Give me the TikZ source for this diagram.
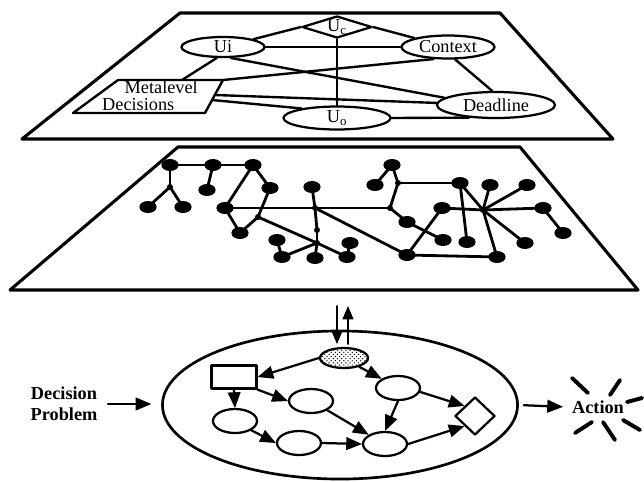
\documentclass[tikz,border=0pt]{standalone}
\usepackage{fontspec}
\setmainfont{Liberation Serif}
\usetikzlibrary{arrows}
\usetikzlibrary{shapes.geometric}
\usetikzlibrary{patterns}
\usetikzlibrary{calc}

\begin{document}
\begin{tikzpicture}[line cap=round,line join=round,>=triangle 45,x=0.025cm,y=-0.025cm,
  font=\fontsize{13}{15}\selectfont,
  plane/.style={line width=2.2pt},
  link/.style={line width=1.7pt},
  oval/.style={ellipse,draw,line width=1.6pt,inner sep=0.5pt},
  blob/.style={ellipse,fill,inner sep=0pt,minimum width=0.43cm,minimum height=0.3cm},
  knot/.style={circle,fill,inner sep=0pt,minimum size=0.15cm},
  flow/.style={->,line width=1.6pt},
  ray/.style={line width=2.8pt}]
\useasboundingbox (0,0) rectangle (644,481);
% upper plane: metalevel model
\draw[plane] (180,13) -- (500,13) -- (613,139) -- (22,139) -- cycle;
\node[diamond,draw,line width=1.6pt,aspect=3,inner sep=0pt,minimum width=1.75cm,minimum height=0.55cm] (uc) at (337,27) {U\textsubscript{c}};
\node[oval,minimum width=2.075cm,minimum height=0.5cm] (ui) at (223,47) {Ui};
\node[oval,minimum width=2.325cm,minimum height=0.575cm] (ctx) at (448,47) {Context};
\node[oval,minimum width=2.95cm,minimum height=0.65cm] (dl) at (496,105) {Deadline};
\node[oval,minimum width=2.675cm,minimum height=0.575cm] (uo) at (337,118) {U\textsubscript{o}};
\node[align=left,inner sep=0pt,font=\fontsize{13}{12}\selectfont] (meta) at (150,96) {\hspace*{16pt}Metalevel\\Decisions};
\draw[link] (118,80) coordinate (ml-nw) -- (223,80) coordinate (ml-ne) -- (205,113) coordinate (ml-se) -- (73,113) coordinate (ml-sw) -- cycle;
\coordinate (ml-n) at (182,80);
\coordinate (ml-e1) at (215,95);
\coordinate (ml-e2) at (212,100);
\draw[link] (uc.west) -- (ui);
\draw[link] (uc.east) -- (ctx);
\draw[link] (uc.south) -- (uo.north);
\draw[link] (ui) -- (ctx);
\draw[link] (ui.-120) -- (ml-n);
\draw[link] (ui.-55) -- (dl.172);
\draw[link] (ctx.-140) -- (ml-ne);
\draw[link] (ctx.-60) -- (dl.105);
\draw[link] (ml-e1) -- (dl.178);
\draw[link] (ml-e2) -- (uo.165);
\draw[link] (uo.east) -- (dl.-155);
% middle plane: object level network
\draw[plane] (178,147) -- (520,147) -- (638,290) -- (10,290) -- cycle;
\foreach \n/\x/\y in {pA/170/165,pB/213/165,pC/253/165,pD/207/190,pE/148/207,pF/183/207,pH/270/188,
  pI/225/208,pK/240/233,pL/312/187,pN/277/240,pO/282/257,pP/315/258,pQ/350/243,pR/347/257,
  qa/392/165,qb/375/185,qd/407/222,qe/443/240,qf/442/208,qg/460/183,qh/490/185,qi/527/185,
  qj/543/208,qk/563/233,ql/467/242,qm/525/243,qn/497/257,qo/407/255}
  \node[blob] (\n) at (\x,\y) {};
\foreach \n/\x/\y in {pG/170/187,pJ/258/217,pM/315/208,pS/317/230,pT/317/243,qc/390/208,qp/398/183,qx/483/210}
  \node[knot] (\n) at (\x,\y) {};
\foreach \a/\b in {pA/pB,pB/pC,pA/pG,pG/pE,pG/pF,pB/pD,pC/pI,pC/pH,pH/pJ,pI/pK,pK/pJ,pI/pM,pJ/pT,
  pL/pM,pM/pS,pS/pT,pT/pP,pT/pO,pT/pR,pN/pO,pQ/pR,pM/qo,pM/qc,qa/qb,qa/qp,qp/qc,qp/qg,qc/qd,
  qd/qe,qf/qo,qf/qx,qg/ql,qg/qx,qx/qh,qx/qi,qx/qj,qx/qm,qx/qn,qj/qk,qo/qn}
  \draw[line width=2pt] (\a.center) -- (\b.center);
% lower part: decision model
\node[ellipse,draw,line width=1.9pt,minimum width=8.875cm,minimum height=3.7cm] (big) at (340,405) {};
\node[ellipse,draw,line width=1.6pt,pattern=crosshatch dots,minimum width=1.2cm,minimum height=0.5cm] (sh) at (344,358) {};
\node[rectangle,draw,line width=1.6pt,minimum width=1.125cm,minimum height=0.575cm] (box) at (234,377) {};
\foreach \n/\x/\y in {e1/398/388,e2/311/401,e3/235/421,e4/299/443,e5/385/444}
  \node[oval,minimum width=1.1cm,minimum height=0.6cm] (\n) at (\x,\y) {};
\node[diamond,draw,line width=1.6pt,minimum width=1cm,minimum height=0.95cm] (dia) at (475,416) {};
\draw[flow] (sh.west) -- (box.east);
\draw[flow] (sh.-30) -- (e1.north west);
\draw[flow] (box.south east) -- (e2.west);
\draw[flow] (box.south) -- (e3.north);
\draw[flow] (e2.south east) -- (e5.north west);
\draw[flow] (e3.south east) -- (e4.west);
\draw[flow] (e4.east) -- (e5.west);
\draw[flow] (e1.south) -- (e5.north);
\draw[flow] (e1.-10) -- (dia.north west);
\draw[flow] (e5.east) -- (dia.south west);
\coordinate (dn) at (337,306);
\coordinate (up) at (348,306);
\draw[flow,line width=1.2pt,shorten >=2pt] (dn) -- (dn |- sh.north);
\draw[flow,line width=1.2pt,shorten <=2pt] (up |- sh.north) -- (up);
\node[font=\fontsize{13}{15}\selectfont\bfseries,align=center] (dp) at (64,404) {Decision\\Problem};
\draw[flow,shorten <=4pt,shorten >=7pt] (dp.east) -- (dp.east -| big.west);
\node[font=\fontsize{13}{15}\selectfont\bfseries] (act) at (598,407) {Action};
\draw[flow,shorten <=3.5pt,shorten >=3pt] (big.east) -- (act.west);
\foreach \a/\b/\c/\d in {-26/-29/-10/-14,22/-27/12/-12,29/-5/44/-9,-6/15/-23/26,5/15/17/33,25/13/42/23}
  \draw[ray] ($(act)+(\a,\b)$) -- ($(act)+(\c,\d)$);
\end{tikzpicture}
\end{document}
